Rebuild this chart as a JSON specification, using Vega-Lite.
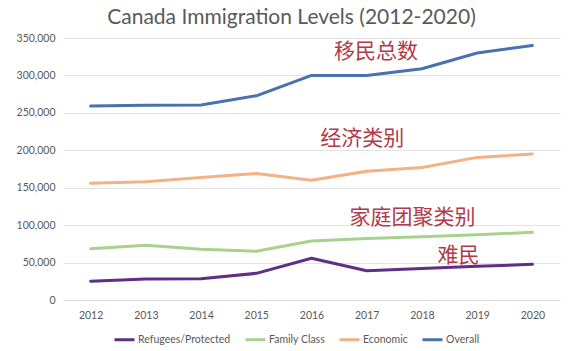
{
  "$schema": "https://vega.github.io/schema/vega-lite/v6.json",
  "width": 497,
  "height": 262,
  "autosize": "none",
  "padding": {"left": 63, "top": 38, "right": 23, "bottom": 51},
  "background": "white",
  "title": {
    "text": "Canada Immigration Levels (2012-2020)",
    "font": "Lato",
    "fontSize": 21,
    "fontWeight": "normal",
    "color": "#595959",
    "anchor": "middle",
    "dx": -20,
    "offset": 5
  },
  "config": {
    "view": {"stroke": null},
    "axis": {"labelFont": "Lato", "labelColor": "#595959", "labelFontSize": 10.5}
  },
  "datasets": {
    "series": [
      {"year": 2012, "category": "Refugees/Protected", "value": 25000},
      {"year": 2013, "category": "Refugees/Protected", "value": 28000},
      {"year": 2014, "category": "Refugees/Protected", "value": 28500},
      {"year": 2015, "category": "Refugees/Protected", "value": 35600},
      {"year": 2016, "category": "Refugees/Protected", "value": 55700},
      {"year": 2017, "category": "Refugees/Protected", "value": 39000},
      {"year": 2018, "category": "Refugees/Protected", "value": 42000},
      {"year": 2019, "category": "Refugees/Protected", "value": 45000},
      {"year": 2020, "category": "Refugees/Protected", "value": 47600},
      {"year": 2012, "category": "Family Class", "value": 68500},
      {"year": 2013, "category": "Family Class", "value": 73000},
      {"year": 2014, "category": "Family Class", "value": 67700},
      {"year": 2015, "category": "Family Class", "value": 65000},
      {"year": 2016, "category": "Family Class", "value": 78800},
      {"year": 2017, "category": "Family Class", "value": 82300},
      {"year": 2018, "category": "Family Class", "value": 84500},
      {"year": 2019, "category": "Family Class", "value": 87000},
      {"year": 2020, "category": "Family Class", "value": 90400},
      {"year": 2012, "category": "Economic", "value": 155800},
      {"year": 2013, "category": "Economic", "value": 158000},
      {"year": 2014, "category": "Economic", "value": 163800},
      {"year": 2015, "category": "Economic", "value": 169000},
      {"year": 2016, "category": "Economic", "value": 160000},
      {"year": 2017, "category": "Economic", "value": 172000},
      {"year": 2018, "category": "Economic", "value": 177000},
      {"year": 2019, "category": "Economic", "value": 190500},
      {"year": 2020, "category": "Economic", "value": 195000},
      {"year": 2012, "category": "Overall", "value": 259000},
      {"year": 2013, "category": "Overall", "value": 260000},
      {"year": 2014, "category": "Overall", "value": 260400},
      {"year": 2015, "category": "Overall", "value": 272800},
      {"year": 2016, "category": "Overall", "value": 300000},
      {"year": 2017, "category": "Overall", "value": 300000},
      {"year": 2018, "category": "Overall", "value": 309000},
      {"year": 2019, "category": "Overall", "value": 330000},
      {"year": 2020, "category": "Overall", "value": 340000}
    ],
    "notes": [
      {"label": "移民总数", "year": 2017.17, "value": 331000},
      {"label": "经济类别", "year": 2016.92, "value": 215000},
      {"label": "家庭团聚类别", "year": 2017.83, "value": 109500},
      {"label": "难民", "year": 2018.66, "value": 58700}
    ]
  },
  "encoding": {
    "x": {
      "field": "year",
      "type": "quantitative",
      "scale": {"domain": [2011.5, 2020.5], "nice": false, "zero": false},
      "axis": {
        "title": null,
        "values": [2012, 2013, 2014, 2015, 2016, 2017, 2018, 2019, 2020],
        "format": "d",
        "grid": false,
        "ticks": false,
        "domain": true,
        "domainColor": "#d9d9d9",
        "labelPadding": 10
      }
    },
    "y": {
      "field": "value",
      "type": "quantitative",
      "scale": {"domain": [0, 350000], "nice": false},
      "axis": {
        "title": null,
        "values": [0, 50000, 100000, 150000, 200000, 250000, 300000, 350000],
        "format": ",.0f",
        "grid": true,
        "gridColor": "#e3e3e3",
        "ticks": false,
        "domain": false,
        "labelPadding": 8,
        "labelOverlap": false
      }
    }
  },
  "layer": [
    {
      "data": {"name": "series"},
      "mark": {"type": "line", "strokeWidth": 3, "strokeCap": "round", "strokeJoin": "round"},
      "encoding": {
        "color": {
          "field": "category",
          "type": "nominal",
          "scale": {
            "domain": ["Refugees/Protected", "Family Class", "Economic", "Overall"],
            "range": ["#5e2f86", "#a9d18e", "#f4b183", "#4a70b0"]
          },
          "legend": {
            "title": null,
            "orient": "none",
            "legendX": 50,
            "legendY": 290,
            "direction": "horizontal",
            "symbolType": "stroke",
            "symbolStrokeWidth": 3,
            "symbolSize": 400,
            "labelOffset": 2,
            "labelFont": "Lato",
            "labelFontSize": 10.5,
            "labelColor": "#595959",
            "columnPadding": 8
          }
        }
      }
    },
    {
      "data": {"name": "notes"},
      "mark": {"type": "text", "font": "Noto Sans CJK SC", "fontSize": 21, "color": "#b23a48", "align": "center", "baseline": "middle"},
      "encoding": {
        "text": {"field": "label"}
      }
    }
  ]
}
